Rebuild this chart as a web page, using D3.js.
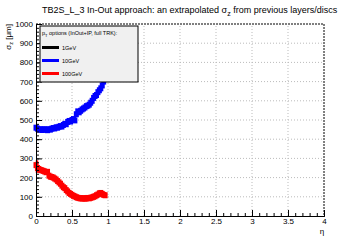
<!DOCTYPE html>
<html>
<head>
<meta charset="utf-8">
<script src="https://cdn.jsdelivr.net/npm/d3@7"></script>
<style>
  body { margin: 0; background: #fff; }
  svg { font-family: "Liberation Sans", Arial, sans-serif; }
</style>
</head>
<body>
<div id="chart"></div>
<script>
// eta bins (same for both series)
var etaValues = [0, 0.02, 0.04, 0.06, 0.08, 0.10, 0.12, 0.14, 0.16, 0.18, 0.20, 0.22, 0.24, 0.26, 0.28, 0.30,
    0.32, 0.34, 0.36, 0.38, 0.40, 0.42, 0.44, 0.46, 0.48, 0.50, 0.52, 0.54, 0.56, 0.58, 0.60, 0.62,
    0.64, 0.66, 0.68, 0.70, 0.72, 0.74, 0.76, 0.78, 0.80, 0.82, 0.84, 0.86, 0.88, 0.90, 0.92, 0.94, 0.96];
var sigma10GeV = [460, 455, 450, 452, 448, 450, 452, 449, 447, 452, 450, 455, 458, 456, 462, 460,
    465, 468, 466, 474, 480, 478, 490, 495, 492, 500, 505, 498, 530, 545, 540, 548,
    555, 560, 565, 572, 575, 580, 590, 600, 615, 625, 630, 645, 655, 665, 680, 700, 715];
var sigma100GeV = [265, 250, 245, 240, 238, 235, 232, 228, 230, 210, 205, 203, 200, 195, 190, 182,
    175, 168, 158, 150, 145, 135, 128, 120, 115, 110, 105, 102, 98, 95, 93, 92,
    91, 93, 90, 92, 94, 92, 95, 97, 100, 103, 108, 112, 118, 120, 115, 110, 108];
var legendLabels = ["1GeV", "10GeV", "100GeV"];
var legendColors = ["#000000", "#0000ff", "#ff0000"];
var xTicks = [0, 0.5, 1, 1.5, 2, 2.5, 3, 3.5, 4];
var yTicks = [0, 100, 200, 300, 400, 500, 600, 700, 800, 900, 1000];

var width = 360, height = 240;
var svg = d3.select("#chart").append("svg")
    .attr("width", width)
    .attr("height", height);

var x = d3.scaleLinear().domain([0, 4]).range([36, 324]);
var y = d3.scaleLinear().domain([0, 1000]).range([216, 24]);

// grid
svg.append("g").selectAll("line.gx")
    .data(xTicks.slice(1, -1))
    .enter().append("line")
    .attr("x1", d => x(d)).attr("x2", d => x(d))
    .attr("y1", y(0)).attr("y2", y(1000))
    .attr("stroke", "#bbb").attr("stroke-dasharray", "1,2");
svg.append("g").selectAll("line.gy")
    .data(yTicks.slice(1, -1))
    .enter().append("line")
    .attr("x1", x(0)).attr("x2", x(4))
    .attr("y1", d => y(d)).attr("y2", d => y(d))
    .attr("stroke", "#bbb").attr("stroke-dasharray", "1,2");

// frame top/right dashed
svg.append("path")
    .attr("d", `M${x(0)},${y(1000)}H${x(4)}V${y(0)}`)
    .attr("fill", "none").attr("stroke", "#000").attr("stroke-dasharray", "2,1");

// series
function drawSeries(vals, color){
    svg.append("g").selectAll("rect")
        .data(vals.map((v, i) => [etaValues[i], v]))
        .enter().append("rect")
        .attr("x", d => x(d[0]) - 2.5)
        .attr("y", d => y(d[1]) - 3)
        .attr("width", 5).attr("height", 6)
        .attr("fill", color);
}
drawSeries(sigma10GeV, legendColors[1]);
drawSeries(sigma100GeV, legendColors[2]);
// error bar on first red point
svg.append("line")
    .attr("x1", x(0) + 1).attr("x2", x(0) + 1)
    .attr("y1", y(290)).attr("y2", y(225))
    .attr("stroke", legendColors[2]).attr("stroke-width", 2.5);

// axes
var xAxis = d3.axisBottom(x).tickValues(d3.range(0, 4.001, 0.1)).tickSize(-3).tickFormat("");
var xMajor = d3.axisBottom(x).tickValues(xTicks).tickSize(-6).tickFormat(d3.format("")).tickPadding(4);
var gx = svg.append("g").attr("transform", `translate(0,${y(0)})`);
gx.call(xAxis);
var gx2 = svg.append("g").attr("transform", `translate(0,${y(0)})`);
gx2.call(xMajor);
var yAxis = d3.axisLeft(y).tickValues(d3.range(0, 1001, 20)).tickSize(-3).tickFormat("");
var yMajor = d3.axisLeft(y).tickValues(yTicks).tickSize(-6).tickPadding(4).tickFormat(d3.format("d"));
var gy = svg.append("g").attr("transform", `translate(${x(0)},0)`);
gy.call(yAxis);
var gy2 = svg.append("g").attr("transform", `translate(${x(0)},0)`);
gy2.call(yMajor);
svg.selectAll(".domain").attr("stroke", "#000");
svg.selectAll(".tick line").attr("stroke", "#000");
gx2.selectAll("text").attr("dy", "0.55em").style("font-size", "8px").attr("fill", "#000");
gy2.selectAll("text").attr("x", -3).style("font-size", "8px").attr("fill", "#000");

// title
var title = svg.append("text").attr("x", 42).attr("y", 13)
    .style("font-size", "10px").attr("fill", "#000");
title.append("tspan").text("TB2S_L_3 In-Out approach: an extrapolated \u03c3");
title.append("tspan").attr("dy", 3).style("font-size", "7px").text("z");
title.append("tspan").attr("dy", -3).text(" from previous layers/discs");
// shrink to fit the reference width
var tw = title.node().getComputedTextLength();
if (tw > 295) title.style("font-size", (10 * 295 / tw) + "px");

// axis titles
var yl = svg.append("text")
    .attr("transform", `translate(11,24) rotate(-90)`)
    .attr("text-anchor", "end")
    .style("font-size", "8px").attr("fill", "#000");
yl.append("tspan").text("\u03c3");
yl.append("tspan").attr("dy", 2).style("font-size", "5.5px").text("z");
yl.append("tspan").attr("dy", -2).text(" [\u03bcm]");
svg.append("text").attr("x", 322).attr("y", 234)
    .attr("text-anchor", "middle")
    .style("font-size", "8px").attr("fill", "#000").text("\u03b7");

// legend
var lg = svg.append("g");
lg.append("rect").attr("x", 40).attr("y", 26).attr("width", 98).attr("height", 56)
    .attr("fill", "#f0f0f0").attr("stroke", "#000").attr("stroke-width", 1);
var hdr = lg.append("text").attr("x", 42).attr("y", 35).style("font-size", "5.5px").attr("fill", "#000");
hdr.append("tspan").text("p");
hdr.append("tspan").attr("dy", 1.5).style("font-size", "4px").text("T");
hdr.append("tspan").attr("dy", -1.5).text(" options (InOut+IP, full TRK):");
lg.selectAll("line.leg")
    .data(legendLabels)
    .enter().append("line")
    .attr("x1", 42).attr("x2", 59)
    .attr("y1", (d, i) => 47.5 + i * 13).attr("y2", (d, i) => 47.5 + i * 13)
    .attr("stroke", (d, i) => legendColors[i]).attr("stroke-width", 3);
lg.selectAll("text.leg")
    .data(legendLabels)
    .enter().append("text")
    .attr("x", 62).attr("y", (d, i) => 49.5 + i * 13)
    .style("font-size", "5.5px").attr("fill", "#000")
    .text(d => d);
</script>
</body>
</html>
